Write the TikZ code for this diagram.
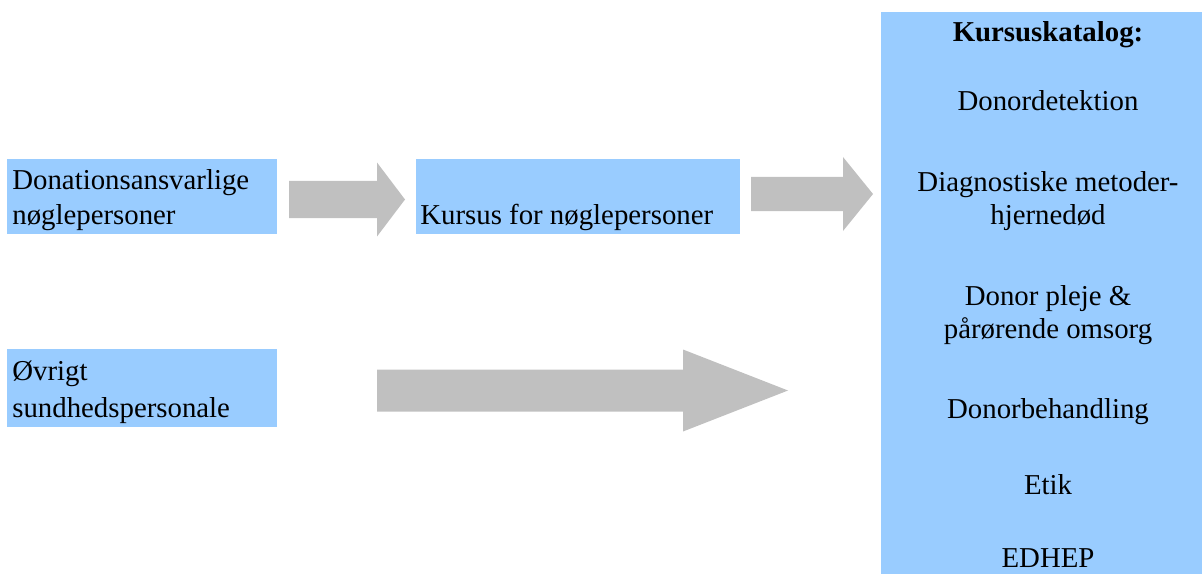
\documentclass[tikz,border=0pt]{standalone}
\usepackage{fontspec}
\setmainfont{Liberation Serif}
\usetikzlibrary{calc,positioning}
\definecolor{boxblue}{RGB}{153,204,255}
\definecolor{arrowgray}{RGB}{192,192,192}
\tikzset{
  keybox/.style={fill=boxblue, anchor=north west, inner sep=0pt},
  keytext/.style={anchor=base west, inner sep=0pt, align=left},
  catbox/.style={fill=boxblue, anchor=north west, inner sep=0pt},
  cattext/.style={align=center, font=\fontsize{16.4}{19}\selectfont},
}
% #1 tail, #2 tip, #3 shaft half width, #4 head half width, #5 head length
\newcommand{\blockarrow}[5]{%
  \fill[arrowgray] ($(#1)+(0,-#3)$) -- ($(#2)+(-#5,-#3)$) -- ($(#2)+(-#5,-#4)$) -- (#2)
    -- ($(#2)+(-#5,#4)$) -- ($(#2)+(-#5,#3)$) -- ($(#1)+(0,#3)$) -- cycle;}

\begin{document}
\begin{tikzpicture}[x=0.02cm,y=-0.02cm]
\useasboundingbox (0,0) rectangle (1202,574);
% left column (base = last line)
\node (donation) [keybox, minimum width=5.4cm, minimum height=1.5cm] at (7,159) {};
\node (donationtext) [keytext, font=\fontsize{16.4}{19.4}\selectfont] at (12,224)
  {Donationsansvarlige\\nøglepersoner};
\node (kursus) [keybox, minimum width=6.48cm, minimum height=1.5cm] at (416,159) {};
\node (kursustext) [keytext, font=\fontsize{16.4}{19.4}\selectfont] at (420,224)
  {Kursus for nøglepersoner};
\node (oevrigt) [keybox, minimum width=5.4cm, minimum height=1.56cm] at (7,349) {};
\node (oevrigttext) [keytext, font=\fontsize{16.4}{21}\selectfont] at (12,417)
  {Øvrigt\\sundhedspersonale};
% catalog
\node (katalog) [catbox, minimum width=6.42cm, minimum height=11.24cm] at (881,12) {};
\node (kt0) [cattext] at (1048,35) {\textbf{Kursuskatalog:}};
\node (kt1) [cattext] at (1048,101) {Donordetektion};
\node (kt2) [cattext] at (1048,201) {Diagnostiske metoder-\\hjernedød};
\node (kt3) [cattext] at (1048,315) {Donor pleje \&\\pårørende omsorg};
\node (kt4) [cattext] at (1048,412) {Donorbehandling};
\node (kt5) [cattext] at (1048,485) {Etik};
\node (kt6) [cattext] at (1048,558) {EDHEP};
% arrows
\coordinate (a1s) at (289,199.5);
\coordinate (a1e) at (405,199.5);
\coordinate (a2s) at (751,194);
\coordinate (a2e) at (873,194);
\coordinate (a3s) at (377,390.5);
\coordinate (a3e) at (788,390.5);
\blockarrow{a1s}{a1e}{18.5}{37}{28}
\blockarrow{a2s}{a2e}{17}{37}{30}
\blockarrow{a3s}{a3e}{21}{41}{105}
\end{tikzpicture}
\end{document}
